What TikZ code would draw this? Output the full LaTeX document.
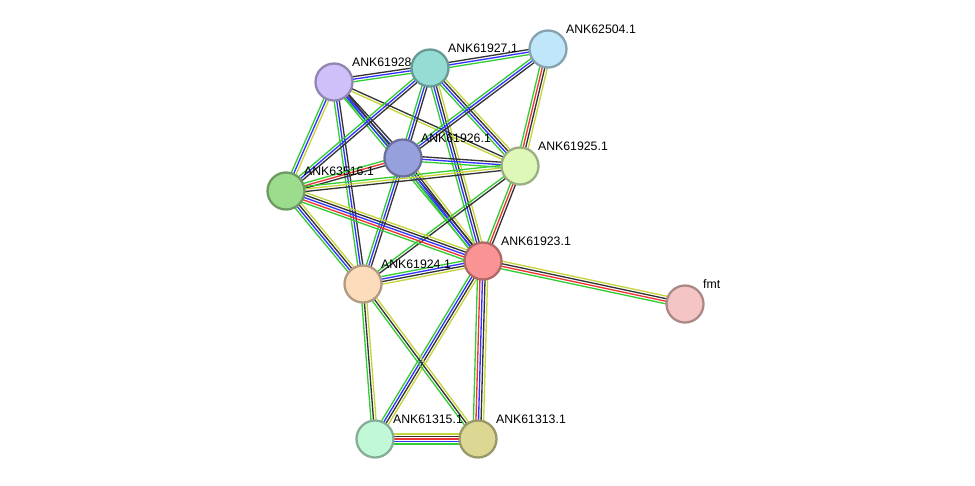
\documentclass[tikz,border=0pt]{standalone}
\usepackage{fontspec}
\setmainfont{Liberation Sans}
\usetikzlibrary{calc}
\pgfdeclarelayer{bg}\pgfsetlayers{bg,main}
\definecolor{eg}{HTML}{33CC33}
\definecolor{eb}{HTML}{3333FF}
\definecolor{ek}{HTML}{333333}
\definecolor{ey}{HTML}{C6D43C}
\definecolor{er}{HTML}{EE3333}
\newcommand\sedge[3]{%
  \foreach \c [count=\n] in {#3}{\xdef\nn{\n}}%
  \foreach \c [count=\i] in {#3}{%
    \pgfmathsetmacro\o{(\i-(\nn+1)/2)*1.45}%
    \draw[color=e\c,line width=0.75pt] ($(#1)!\o pt!90:(#2)$) -- ($(#2)!\o pt!-90:(#1)$);}}
\tikzset{prot/.style={circle,minimum size=0.74cm,inner sep=0,line width=1.3pt},
  lbl/.style={font=\fontsize{7}{8}\selectfont,inner sep=1pt,anchor=south west}}
\begin{document}
\begin{tikzpicture}[x=0.02cm,y=-0.02cm]
\useasboundingbox (0,0) rectangle (975,485);
\newcommand\pn[5]{\node[prot,draw=#4!70!black,fill=#4] (#1) at (#2,#3) {};
  \node[lbl] (#1t) at ($(#1)+(16,-13)$) {#5};}
\definecolor{c928}{HTML}{CFC0FA}\definecolor{c927}{HTML}{95DCD4}
\definecolor{c504}{HTML}{C0E6FA}\definecolor{c926}{HTML}{96A0DC}
\definecolor{c925}{HTML}{DEF8B8}\definecolor{c635}{HTML}{9CDC8C}
\definecolor{c923}{HTML}{FA9494}\definecolor{c924}{HTML}{FDDCBC}
\definecolor{cfmt}{HTML}{F5C4C4}\definecolor{c315}{HTML}{C0F8D8}
\definecolor{c313}{HTML}{DCD894}
\pn{n928}{334}{82}{c928}{ANK61928.1}
\pn{n927}{430}{68}{c927}{ANK61927.1}
\pn{n504}{548}{49}{c504}{ANK62504.1}
\pn{n926}{403}{158}{c926}{ANK61926.1}
\pn{n925}{520}{166}{c925}{ANK61925.1}
\pn{n635}{286}{191}{c635}{ANK63516.1}
\pn{n923}{483}{261}{c923}{ANK61923.1}
\pn{n924}{363}{284}{c924}{ANK61924.1}
\pn{nfmt}{685}{304}{cfmt}{fmt}
\pn{n315}{375}{439}{c315}{ANK61315.1}
\pn{n313}{478}{439}{c313}{ANK61313.1}
\begin{pgfonlayer}{bg}
\sedge{n928}{n927}{g,b,k}
\sedge{n927}{n504}{g,b,k}
\sedge{n928}{n926}{g,b,k}
\sedge{n928}{n925}{y,k}
\sedge{n928}{n923}{g,b,k}
\sedge{n928}{n924}{g,b,k}
\sedge{n928}{n635}{g,b,y}
\sedge{n927}{n926}{g,b,k}
\sedge{n927}{n925}{g,b,k,y}
\sedge{n927}{n923}{g,b,k,y}
\sedge{n927}{n635}{g,b,k}
\sedge{n504}{n926}{g,b,k}
\sedge{n504}{n925}{g,r,k,y}
\sedge{n926}{n925}{g,b,k}
\sedge{n926}{n635}{g,r,k}
\sedge{n926}{n923}{g,b,k,y}
\sedge{n926}{n924}{g,b,k}
\sedge{n925}{n635}{g,y,k}
\sedge{n925}{n923}{g,r,k}
\sedge{n925}{n924}{g,k}
\sedge{n635}{n923}{g,r,b,k,y}
\sedge{n635}{n924}{g,b,k,y}
\sedge{n923}{n924}{g,b,k,y}
\sedge{n923}{nfmt}{g,r,k,y}
\sedge{n923}{n315}{g,b,k,y}
\sedge{n923}{n313}{g,r,b,k,y}
\sedge{n924}{n315}{g,k,y}
\sedge{n924}{n313}{g,k,y}
\sedge{n315}{n313}{g,b,r,k,y}
\end{pgfonlayer}
\end{tikzpicture}
\end{document}
